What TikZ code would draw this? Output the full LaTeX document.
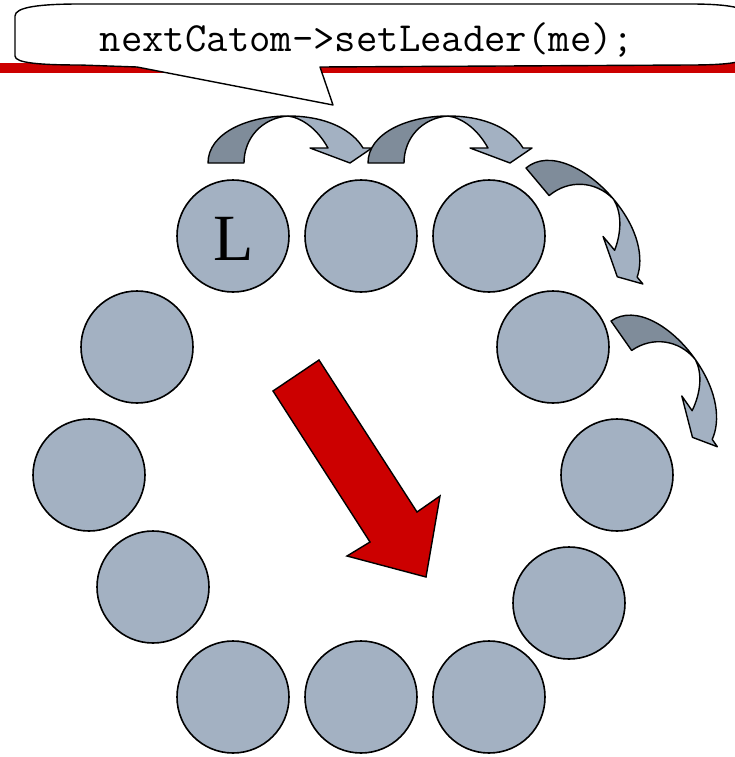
\documentclass[tikz,border=0pt]{standalone}
\usepackage{fontspec}
\setmainfont{Liberation Serif}
\definecolor{catom}{HTML}{A3B1C2}
\definecolor{catomdark}{HTML}{7F8C9A}
\definecolor{redbar}{HTML}{CC0000}
\newcommand\hopArrow{%
  \filldraw[fill=catomdark, arrowline] (0,0) .. controls (0,-30) and (40,-47) .. (80,-47)
     .. controls (54,-45) and (36,-25) .. (36,0) -- cycle;
  \filldraw[fill=catom, arrowline] (80,-47) .. controls (120,-47) and (145,-32) .. (155,-15)
     -- (164,-15) -- (142,0) -- (102,-15) -- (120,-15)
     .. controls (110,-33) and (95,-45) .. (80,-47) -- cycle;}
\begin{document}
\begin{tikzpicture}[x=1pt,y=-1pt,
  catomnode/.style={circle, draw=black, fill=catom, line width=1.6pt, minimum size=112pt, inner sep=0pt},
  arrowline/.style={draw=black, line width=1.4pt, line join=round}]
\useasboundingbox (0,0) rectangle (735,757);
% red title bar
\fill[redbar] (0,63) rectangle (735,73);
% callout
\filldraw[fill=white, draw=black, line width=1.4pt, line join=round]
  (15,16) .. controls (15,7) and (40,4) .. (80,4) -- (690,4)
  .. controls (730,4) and (748,8) .. (748,16)
  -- (748,55) .. controls (748,62) and (730,65) .. (690,65)
  -- (320,67) -- (333,105) -- (137,67)
  -- (80,65) .. controls (40,65) and (15,63) .. (15,56) -- cycle;
\node (code) at (367,40) {\ttfamily\fontsize{41.5}{44}\selectfont nextCatom->setLeader(me);};
% catoms
\node[catomnode] (c1) at (233,236) {};
\node (lbl) at (234,239) {\fontsize{66}{68}\selectfont L};
\node[catomnode] (c2) at (361,236) {};
\node[catomnode] (c3) at (489,236) {};
\node[catomnode] (c4) at (553,347) {};
\node[catomnode] (c5) at (617,475) {};
\node[catomnode] (c6) at (569,603) {};
\node[catomnode] (c7) at (489,697) {};
\node[catomnode] (c8) at (361,697) {};
\node[catomnode] (c9) at (233,697) {};
\node[catomnode] (c10) at (153,587) {};
\node[catomnode] (c11) at (89,475) {};
\node[catomnode] (c12) at (137,347) {};
% hop arrows
\begin{scope}[shift={(208,163)}]\hopArrow\end{scope}
\begin{scope}[shift={(368,163)}]\hopArrow\end{scope}
\begin{scope}[shift={(526,168)}, rotate=-50]\hopArrow\end{scope}
\begin{scope}[shift={(611,321)}, rotate=-55]\hopArrow\end{scope}
% big red arrow
\filldraw[fill=redbar, draw=black, line width=1.4pt, line join=miter]
  (273,391) -- (319,360) -- (417,512) -- (440,496) -- (426,577) -- (347,556) -- (370,542) -- cycle;
\end{tikzpicture}
\end{document}
